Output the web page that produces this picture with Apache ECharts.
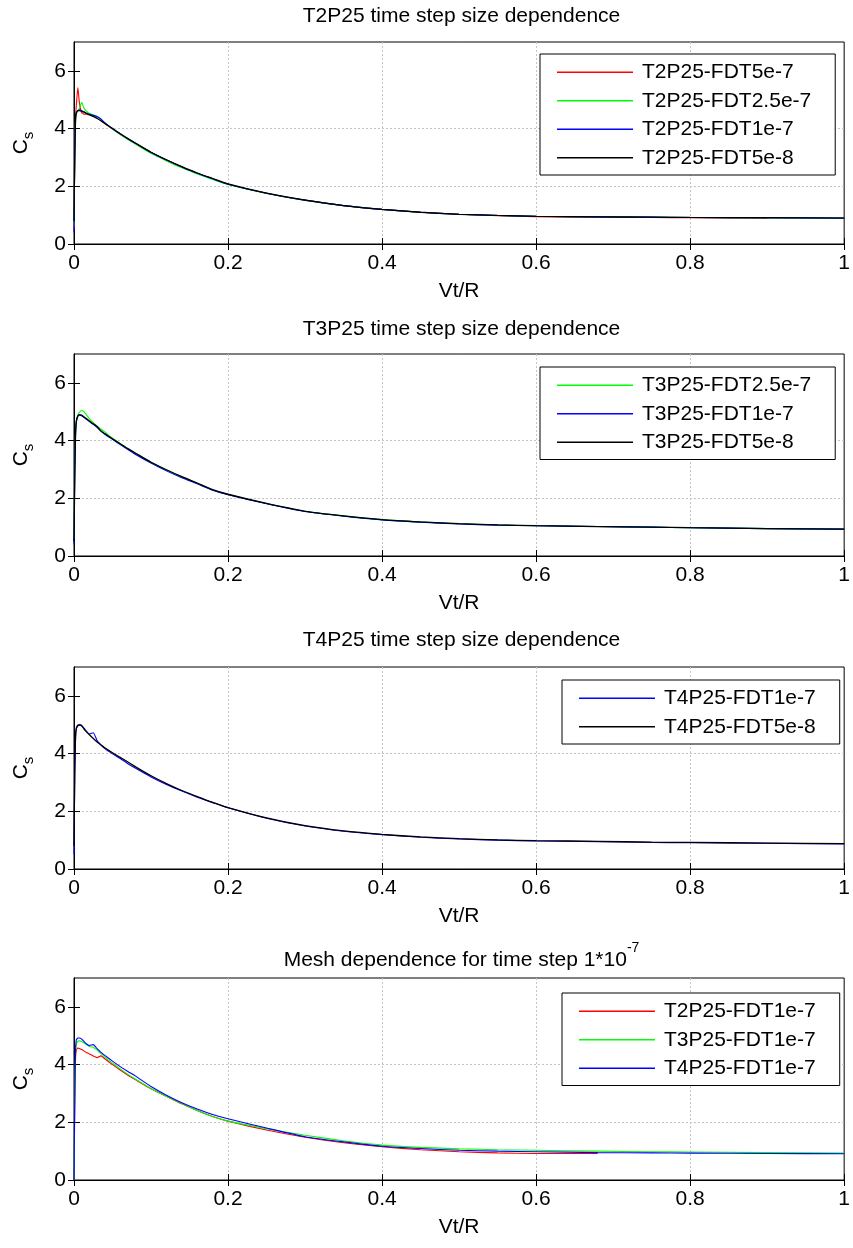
<!DOCTYPE html>
<html><head><meta charset="utf-8">
<script src="https://cdn.jsdelivr.net/npm/echarts@6/dist/echarts.min.js"></script>
<style>html,body{margin:0;padding:0;background:#fff;overflow:hidden}#c{width:853px;height:1248px}</style>
</head><body><div id="c"></div><script>
// shared abscissa Vt/R
const vtr = [0, 0.001, 0.002, 0.003, 0.005, 0.007, 0.01, 0.013, 0.016, 0.02, 0.025, 0.03, 0.035, 0.04, 0.05, 0.06, 0.07, 0.08, 0.1, 0.12, 0.14, 0.16, 0.18, 0.2, 0.25, 0.3, 0.35, 0.4, 0.45, 0.5, 0.55, 0.6, 0.68, 0.75, 0.8, 0.9, 1.0];

// Panel 1: T2P25 time step size dependence
const t2_5e7   = [0.5, 3.0, 4.4, 4.8, 5.42, 4.9, 4.55, 4.5, 4.5, 4.47, 4.45, 4.38, 4.27, 4.17, 3.98, 3.8, 3.64, 3.48, 3.17, 2.91, 2.67, 2.45, 2.26, 2.07, 1.76, 1.52, 1.33, 1.2, 1.1, 1.03, 0.98, 0.95, 0.93, 0.92, 0.91, 0.9];
const t2_2p5e7 = [0.6, 3.1, 4.3, 4.5, 4.6, 4.7, 4.91, 4.7, 4.6, 4.52, 4.48, 4.4, 4.3, 4.2, 3.98, 3.79, 3.62, 3.46, 3.14, 2.88, 2.64, 2.43, 2.24, 2.06, 1.75, 1.51, 1.33, 1.2, 1.1, 1.03, 0.99, 0.96, 0.94, 0.93, 0.92, 0.91, 0.9];
const t2_1e7   = [0.4, 3.0, 4.3, 4.55, 4.62, 4.65, 4.62, 4.58, 4.53, 4.5, 4.46, 4.42, 4.33, 4.2, 4.0, 3.82, 3.65, 3.49, 3.17, 2.91, 2.67, 2.45, 2.26, 2.07, 1.76, 1.52, 1.33, 1.2, 1.1, 1.03, 0.99, 0.96, 0.94, 0.93, 0.92, 0.91, 0.9];
const t2_5e8   = [0.8, 3.2, 4.3, 4.55, 4.62, 4.62, 4.6, 4.57, 4.53, 4.48, 4.42, 4.35, 4.27, 4.18, 4.0, 3.82, 3.65, 3.49, 3.18, 2.92, 2.68, 2.46, 2.27, 2.08, 1.76, 1.52, 1.33, 1.2, 1.1, 1.03, 0.99, 0.96, 0.94, 0.93, 0.92, 0.91, 0.9];

// Panel 2: T3P25 time step size dependence
const t3_2p5e7 = [0.6, 3.0, 4.3, 4.7, 4.9, 4.98, 5.04, 5.0, 4.9, 4.75, 4.62, 4.5, 4.4, 4.3, 4.08, 3.9, 3.72, 3.56, 3.25, 2.98, 2.74, 2.51, 2.29, 2.13, 1.82, 1.55, 1.39, 1.26, 1.18, 1.12, 1.08, 1.05, 1.02, 1.0, 0.98, 0.95, 0.93];
const t3_1e7   = [0.4, 2.8, 4.2, 4.65, 4.84, 4.88, 4.86, 4.8, 4.74, 4.66, 4.56, 4.45, 4.33, 4.22, 4.04, 3.86, 3.69, 3.52, 3.22, 2.95, 2.71, 2.5, 2.28, 2.12, 1.81, 1.54, 1.38, 1.25, 1.17, 1.11, 1.07, 1.05, 1.02, 1.0, 0.98, 0.95, 0.93];
const t3_5e8   = [0.5, 2.8, 4.2, 4.65, 4.85, 4.9, 4.88, 4.82, 4.76, 4.68, 4.58, 4.49, 4.33, 4.24, 4.06, 3.89, 3.72, 3.56, 3.25, 2.99, 2.75, 2.53, 2.3, 2.14, 1.82, 1.55, 1.39, 1.26, 1.18, 1.12, 1.08, 1.05, 1.02, 1.0, 0.98, 0.95, 0.93];

// Panel 3: T4P25 time step size dependence
const t4_1e7   = [0.5, 3.2, 4.5, 4.85, 4.96, 4.98, 4.95, 4.88, 4.78, 4.68, 4.72, 4.45, 4.3, 4.17, 3.99, 3.83, 3.65, 3.49, 3.19, 2.93, 2.7, 2.49, 2.3, 2.12, 1.76, 1.49, 1.31, 1.19, 1.1, 1.04, 1.0, 0.97, 0.95, 0.92, 0.91, 0.89, 0.87];
const t4_5e8   = [0.8, 3.5, 4.6, 4.88, 4.98, 5.0, 4.97, 4.85, 4.76, 4.65, 4.52, 4.4, 4.3, 4.2, 4.03, 3.87, 3.71, 3.54, 3.23, 2.96, 2.72, 2.51, 2.31, 2.13, 1.77, 1.5, 1.32, 1.2, 1.11, 1.05, 1.01, 0.98, 0.96, 0.93, 0.92, 0.9, 0.88];

// Panel 4: Mesh dependence for time step 1e-7
const m_t2 = [0, 2.5, 4.2, 4.5, 4.57, 4.56, 4.52, 4.47, 4.42, 4.37, 4.3, 4.24, 4.3, 4.2, 4.0, 3.81, 3.63, 3.47, 3.16, 2.9, 2.64, 2.41, 2.2, 2.04, 1.73, 1.48, 1.29, 1.15, 1.05, 0.98, 0.94, 0.92, 0.92];
const m_t3 = [0, 2.8, 4.4, 4.7, 4.8, 4.82, 4.8, 4.75, 4.7, 4.63, 4.6, 4.5, 4.38, 4.26, 4.05, 3.85, 3.66, 3.49, 3.17, 2.9, 2.65, 2.41, 2.2, 2.04, 1.78, 1.55, 1.36, 1.21, 1.13, 1.08, 1.05, 1.03, 1.0, 0.98, 0.97, 0.95, 0.93];
const m_t4 = [0, 2.9, 4.5, 4.85, 4.92, 4.92, 4.88, 4.8, 4.72, 4.66, 4.69, 4.55, 4.42, 4.32, 4.12, 3.93, 3.76, 3.6, 3.24, 2.94, 2.68, 2.46, 2.27, 2.12, 1.8, 1.5, 1.32, 1.17, 1.09, 1.03, 1.0, 0.98, 0.95, 0.94, 0.93, 0.92, 0.91];

const titles = ['T2P25 time step size dependence', 'T3P25 time step size dependence', 'T4P25 time step size dependence', '{t|Mesh dependence for time step 1*10}{p|-7}'];
const xTicks = [0, 0.2, 0.4, 0.6, 0.8, 1];
const yTicks = [0, 2, 4, 6];

const panels = [
  [['T2P25-FDT5e-7', t2_5e7, '#ff0000'], ['T2P25-FDT2.5e-7', t2_2p5e7, '#00ff00'], ['T2P25-FDT1e-7', t2_1e7, '#0000ff'], ['T2P25-FDT5e-8', t2_5e8, '#000000']],
  [['T3P25-FDT2.5e-7', t3_2p5e7, '#00ff00'], ['T3P25-FDT1e-7', t3_1e7, '#0000ff'], ['T3P25-FDT5e-8', t3_5e8, '#000000']],
  [['T4P25-FDT1e-7', t4_1e7, '#0000ff'], ['T4P25-FDT5e-8', t4_5e8, '#000000']],
  [['T2P25-FDT1e-7', m_t2, '#ff0000'], ['T3P25-FDT1e-7', m_t3, '#00ff00'], ['T4P25-FDT1e-7', m_t4, '#0000ff']]
];

const FONT = 'Liberation Sans, Arial, Helvetica, sans-serif';
const gridTops = [42, 354, 667, 978];
const titleTops = [6, 319, 630, 941];
const legendPos = [[540, 54], [540, 367], [562, 680], [562, 993]];

const grid = [], xAxis = [], yAxis = [], series = [], title = [], legend = [];
const splitStyle = {show: true, showMinLine: false, showMaxLine: false, lineStyle: {color: '#c4c4c4', type: [2, 2], width: 1}};
const tick = {show: true, inside: true, length: 6, lineStyle: {color: '#000', width: 1}};
const line = {show: true, lineStyle: {color: '#000', width: 1}};

gridTops.forEach((top, i) => {
  grid.push({left: 74, width: 775, top: top, height: 202, show: true, borderColor: '#000', borderWidth: 1, containLabel: false});
  xAxis.push({type: 'value', gridIndex: i, min: 0, max: 1, interval: 0.2, position: 'bottom',
    axisLine: line, axisTick: tick, splitLine: splitStyle,
    axisLabel: {color: '#000', fontSize: 21, fontFamily: FONT, margin: 9, customValues: xTicks},
    name: 'Vt/R', nameLocation: 'middle', nameGap: 37, nameTextStyle: {color: '#000', fontSize: 21, fontFamily: FONT}});
  xAxis.push({type: 'value', gridIndex: i, min: 0, max: 1, interval: 0.2, position: 'top',
    axisLine: line, axisTick: tick, splitLine: {show: false}, axisLabel: {show: false}});
  yAxis.push({type: 'value', gridIndex: i, min: 0, max: 7, interval: 2, position: 'left',
    axisLine: line, axisTick: Object.assign({}, tick, {customValues: yTicks}), splitLine: splitStyle,
    axisLabel: {color: '#000', fontSize: 21, fontFamily: FONT, margin: 8, customValues: yTicks},
    name: '{c|C}{s|s}', nameLocation: 'middle', nameGap: 38,
    nameTextStyle: {color: '#000', fontFamily: FONT, rich: {
      c: {fontSize: 21, fontFamily: FONT, color: '#000', lineHeight: 30, verticalAlign: 'middle'},
      s: {fontSize: 15, fontFamily: FONT, color: '#000', lineHeight: 16, verticalAlign: 'bottom'}}}});
  yAxis.push({type: 'value', gridIndex: i, min: 0, max: 7, interval: 2, position: 'right',
    axisLine: line, axisTick: Object.assign({}, tick, {customValues: yTicks}), splitLine: {show: false}, axisLabel: {show: false}});
  title.push({text: titles[i], left: 461.5, textAlign: 'center', top: titleTops[i], padding: 0,
    textStyle: {color: '#000', fontSize: 21, fontWeight: 'normal', fontFamily: FONT,
      rich: {t: {fontSize: 21, fontFamily: FONT, color: '#000', lineHeight: 30, verticalAlign: 'bottom'},
             p: {fontSize: 14, fontFamily: FONT, color: '#000', lineHeight: 14, verticalAlign: 'top'}}}});
  const items = [];
  panels[i].forEach(([name, vals, color]) => {
    series.push({type: 'line', name: name, xAxisIndex: 2 * i, yAxisIndex: 2 * i,
      data: vals.map((v, k) => [vtr[k], v]), symbol: 'none', showSymbol: false, smooth: 0.2,
      lineStyle: {color: color, width: color === '#000000' ? 1.3 : 1.1}, itemStyle: {color: color},
      animation: false, silent: true, z: 3});
    items.push({name: name, itemStyle: {color: color}});
  });
  legend.push({data: items, orient: 'vertical', left: legendPos[i][0], top: legendPos[i][1],
    padding: [7, 24, 6, 17], itemGap: 6, itemWidth: 76, itemHeight: 1.5, icon: 'rect',
    selectedMode: false, backgroundColor: '#fff', borderColor: '#000', borderWidth: 1, borderRadius: 0,
    textStyle: {color: '#000', fontSize: 21, fontFamily: FONT, lineHeight: 22.5, padding: [0, 0, 0, 4]}});
});

const chart = echarts.init(document.getElementById('c'), null, {renderer: 'canvas'});
chart.setOption({animation: false, backgroundColor: '#fff', title, legend, grid, xAxis, yAxis, series});
</script></body></html>
